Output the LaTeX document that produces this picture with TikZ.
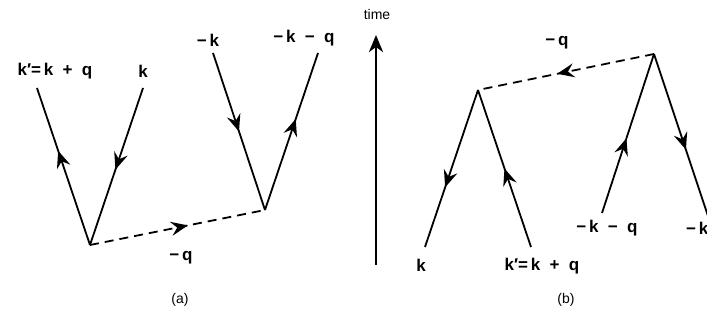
\documentclass[tikz,border=0pt]{standalone}
\usepackage{fontspec}
\setsansfont{Liberation Sans}
\usetikzlibrary{arrows.meta,decorations.markings}

\newcommand{\gp}{\hspace{0.55em}}

\begin{document}
\begin{tikzpicture}[
    x=1pt, y=-1pt,
    fermion/.style={line width=1.8pt},
    phonon/.style={line width=1.8pt, dash pattern=on 9pt off 6pt},
    midarrow/.style={
        postaction={decorate},
        decoration={
            markings,
            mark=at position #1 with {\arrow{Stealth[length=17pt,width=14pt,inset=6pt]}}
        }
    },
    lbl/.style={font=\sffamily\bfseries\fontsize{17}{19}\selectfont, inner sep=0pt},
    captxt/.style={font=\sffamily\fontsize{14}{16}\selectfont, inner sep=0pt}
]

\useasboundingbox (0,0) rectangle (707,320);

% ---------------- DIAGRAMA (a) ----------------

% vertexs i extrems
\coordinate (va1) at (90,245);
\coordinate (va2) at (265,210);
\coordinate (ea1) at (37,88);
\coordinate (ea2) at (143,88);
\coordinate (ea3) at (213,53);
\coordinate (ea4) at (318,53);

% linies d'electro
\draw[fermion, midarrow=0.6] (va1) -- (ea1);
\draw[fermion, midarrow=0.52] (ea2) -- (va1);
\draw[fermion, midarrow=0.5] (ea3) -- (va2);
\draw[fermion, midarrow=0.58] (va2) -- (ea4);

% foto
\draw[phonon, midarrow=0.56] (va1) -- (va2);

\node[lbl] (kpa) at (55,71) {k′=\,k\gp+\gp q};
\node[lbl] (ka) at (143,71) {k};
\node[lbl] (mka) at (208,40) {−\,k};
\node[lbl] (mkqa) at (304,38) {−\,k\gp−\gp q};
\node[lbl] (mqa) at (181,258) {−\,q};
\node[captxt] (capa) at (180,300) {(a)};


% ---------------- TEMPS ----------------

\coordinate (tbot) at (376,265);
\coordinate (ttop) at (376,35);
\draw[
    line width=2.6pt,
    -{Stealth[length=17pt,width=14pt,inset=5pt]}
] (tbot) -- (ttop);
\node[captxt] (tlab) at (377,15) {time};


% ---------------- DIAGRAMA (b) ----------------

\coordinate (vb1) at (478,90);
\coordinate (vb2) at (654,54);
\coordinate (eb1) at (425,247);
\coordinate (eb2) at (531,247);
\coordinate (eb3) at (602,213);
\coordinate (eb4) at (712,228);

\draw[fermion, midarrow=0.62] (vb1) -- (eb1);
\draw[fermion, midarrow=0.5] (eb2) -- (vb1);
\draw[fermion, midarrow=0.47] (eb3) -- (vb2);
\draw[fermion, midarrow=0.55] (vb2) -- (eb4);

\draw[phonon, midarrow=0.55] (vb2) -- (vb1);

\node[lbl] (kb) at (421,265) {k};
\node[lbl] (kpb) at (542,266) {k′=\,k\gp+\gp q};
\node[lbl] (mkqb) at (607,228) {−\,k\gp−\gp q};
\node[lbl, anchor=west] (mkb) at (686,228) {−\,k};
\node[lbl] (mqb) at (557,43) {−\,q};
\node[captxt] (capb) at (566,300) {(b)};

\end{tikzpicture}
\end{document}
